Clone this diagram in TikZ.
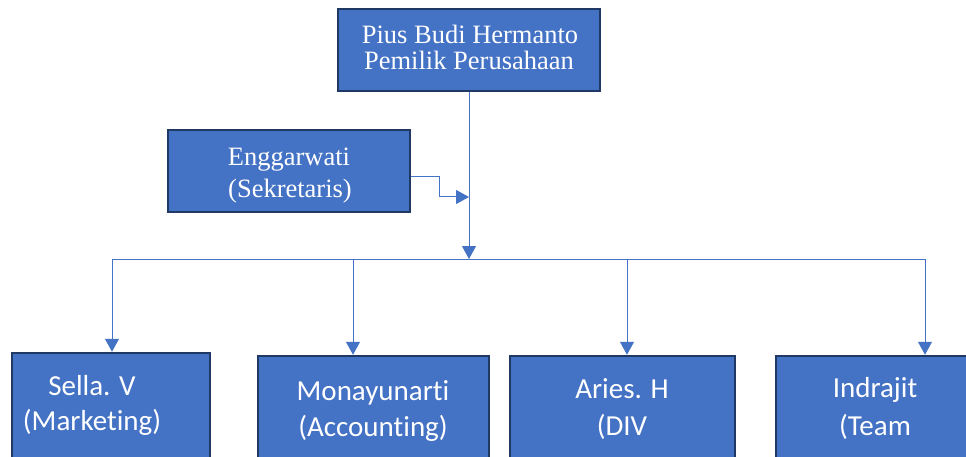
\documentclass[tikz,border=0pt]{standalone}
\usepackage{fontspec}
\setmainfont{Liberation Serif}
\newfontfamily\calib[RawFeature=-liga]{Carlito}
\usetikzlibrary{arrows.meta}
\definecolor{boxfill}{HTML}{4472C4}
\definecolor{boxline}{HTML}{1F3864}
\definecolor{conn}{HTML}{4472C4}
\tikzset{
  orgbox/.style={draw=boxline, line width=2.5pt, fill=boxfill, rectangle, inner sep=0pt},
  serifline/.style={text=white, font=\fontsize{26.5}{26}\selectfont, anchor=base, inner sep=0pt},
  sansline/.style={text=white, font=\calib\fontsize{29}{35}\selectfont, anchor=base, inner sep=0pt},
  conline/.style={draw=conn, line width=1pt},
  arr/.style={conline, -{Triangle[length=13pt,width=14pt]}}
}
\begin{document}
\begin{tikzpicture}[x=1pt,y=-1pt]
\clip (0,0) rectangle (966,457);
\fill[white] (0,0) rectangle (966,457);
% boxes
\node[orgbox, minimum width=262pt, minimum height=82pt] (top) at (469,50) {};
\node[orgbox, minimum width=242pt, minimum height=82pt] (sec) at (289,171) {};
\node[orgbox, minimum width=198pt, minimum height=117pt] (sella) at (111,411.5) {};
\node[orgbox, minimum width=231pt, minimum height=114pt] (mona) at (373.5,413) {};
\node[orgbox, minimum width=225pt, minimum height=114pt] (aries) at (622.5,413) {};
\node[orgbox, minimum width=204pt, minimum height=114pt] (indra) at (878,413) {};
% texts
\node[serifline] (topa) at (470,44) {Pius Budi Hermanto};
\node[serifline] (topb) at (469,70) {Pemilik Perusahaan};
\node[serifline] (seca) at (289,166) {Enggarwati};
\node[serifline] (secb) at (290,198) {(Sekretaris)};
\node[sansline] (sellaa) at (92,395) {Sella. V};
\node[sansline] (sellab) at (92,430) {(Marketing)};
\node[sansline] (monaa) at (373,400) {Monayunarti};
\node[sansline] (monab) at (373,436) {(Accounting)};
\node[sansline] (ariesa) at (622,398) {Aries. H};
\node[sansline] (ariesb) at (622,435) {(DIV};
\node[sansline] (indraa) at (875,397) {Indrajit};
\node[sansline] (indrab) at (875,435) {(Team};
% coordinates
\coordinate (hub) at (469,259);
\coordinate (hl) at (112,259);
\coordinate (hr) at (925,259);
\coordinate (secin) at (469,197);
\coordinate (dm) at (353,259);
\coordinate (da) at (627,259);
% connectors
\draw[arr] (top.south -| hub) -- (hub);
\draw[arr] ([yshift=-6pt]sec.east) -- ++(28,0) |- (secin);
\draw[conline] (hl) -- (hr);
\draw[arr] (hl) -- (hl |- sella.north);
\draw[arr] (dm) -- (dm |- mona.north);
\draw[arr] (da) -- (da |- aries.north);
\draw[arr] (hr) -- (hr |- indra.north);
\end{tikzpicture}
\end{document}
